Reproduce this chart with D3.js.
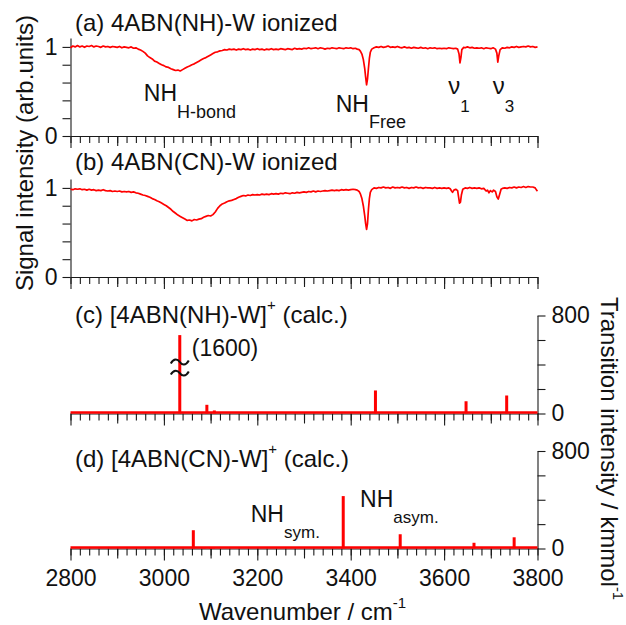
<!DOCTYPE html>
<html><head><meta charset="utf-8">
<script src="https://cdn.jsdelivr.net/npm/d3@7"></script>
<style>
html,body{margin:0;padding:0;background:#fff;}
svg{display:block;font-family:"Liberation Sans",Arial,sans-serif;}
</style></head>
<body><svg id="c" width="626" height="625"></svg>
<script>
// ---------------- DATA ----------------
const panelTitles = ["(a) 4ABN(NH)-W ionized", "(b) 4ABN(CN)-W ionized", "(c) [4ABN(NH)-W]", "(d) [4ABN(CN)-W]"];
const xTickLabels = [2800, 3000, 3200, 3400, 3600, 3800];
const yTickLabelsExp = [0, 1];
const yTickLabelsCalc = [0, 800];

// (a) ionized 4ABN(NH)-W : [wavenumber, signal]
const spectrumA = [
[2800,0.99],[2805,1.01],[2810,1.0],[2815,1.015],[2820,1.0],[2825,1.01],[2830,0.995],[2835,1.01],[2840,1.005],[2845,1.015],
[2850,1.0],[2855,1.01],[2860,1.005],[2865,0.995],[2870,1.01],[2875,1.0],[2880,1.005],[2885,0.995],[2890,1.005],[2895,1.0],
[2900,0.995],[2905,1.005],[2910,0.99],[2915,1.0],[2920,0.995],[2925,0.99],[2930,1.0],[2935,0.985],[2940,0.99],[2945,0.975],
[2950,0.965],[2955,0.95],[2960,0.93],[2965,0.9],[2970,0.88],[2975,0.865],[2980,0.84],[2985,0.83],[2990,0.815],[2995,0.8],
[3000,0.79],[3005,0.775],[3010,0.77],[3015,0.755],[3020,0.745],[3025,0.735],[3030,0.74],[3035,0.73],[3040,0.745],[3045,0.76],
[3050,0.775],[3055,0.785],[3060,0.8],[3065,0.81],[3070,0.825],[3075,0.84],[3080,0.855],[3085,0.87],[3090,0.88],[3095,0.895],
[3100,0.91],[3105,0.925],[3110,0.94],[3115,0.945],[3120,0.955],[3125,0.96],[3130,0.97],[3135,0.965],[3140,0.975],[3145,0.97],
[3150,0.975],[3155,0.965],[3160,0.975],[3165,0.97],[3170,0.98],[3175,0.97],[3180,0.975],[3185,0.965],[3190,0.975],[3195,0.97],
[3200,0.98],[3205,0.97],[3210,0.975],[3215,0.965],[3220,0.975],[3225,0.97],[3230,0.98],[3235,0.97],[3240,0.975],[3245,0.97],
[3250,0.98],[3255,0.975],[3260,0.97],[3265,0.98],[3270,0.975],[3275,0.97],[3280,0.985],[3285,0.975],[3290,0.98],[3295,0.975],
[3300,0.985],[3305,0.98],[3310,0.99],[3315,0.98],[3320,0.985],[3325,0.99],[3330,0.98],[3335,0.99],[3340,0.985],[3345,0.975],
[3350,0.985],[3355,0.98],[3360,0.99],[3365,0.985],[3370,0.98],[3375,0.99],[3380,0.985],[3385,0.98],[3390,0.99],[3395,0.985],
[3400,0.99],[3405,0.98],[3410,0.985],[3414,0.975],[3418,0.97],[3421,0.95],[3424,0.92],[3427,0.86],[3430,0.76],[3432,0.66],
[3434,0.575],[3436,0.64],[3438,0.76],[3440,0.87],[3442,0.94],[3445,0.975],[3450,0.99],[3455,1.0],[3460,0.995],[3465,1.005],
[3470,0.995],[3475,1.0],[3480,1.01],[3485,0.995],[3490,1.0],[3495,0.995],[3500,1.005],[3505,0.995],[3510,0.99],[3515,1.0],
[3520,0.99],[3525,0.995],[3530,0.985],[3535,0.995],[3540,0.99],[3545,0.985],[3550,0.995],[3555,0.985],[3560,0.99],[3565,0.98],
[3570,0.99],[3575,0.985],[3580,0.99],[3585,0.98],[3590,0.985],[3595,0.98],[3600,0.985],[3605,0.98],[3610,0.99],[3615,0.985],
[3620,0.98],[3625,0.985],[3629,0.975],[3632,0.92],[3634,0.82],[3636,0.88],[3638,0.97],[3642,0.995],[3645,0.99],[3650,1.0],
[3655,0.99],[3660,0.995],[3665,0.985],[3670,0.99],[3675,0.985],[3680,0.99],[3685,0.98],[3690,0.99],[3695,0.985],[3700,0.98],
[3705,0.99],[3710,0.975],[3713,0.93],[3715,0.83],[3717,0.9],[3720,0.97],[3725,0.99],[3730,0.985],[3735,0.995],[3740,0.99],
[3745,1.0],[3750,0.995],[3755,1.005],[3760,0.995],[3765,1.0],[3770,1.005],[3775,1.0],[3780,1.01],[3785,1.0],[3790,1.005],
[3795,0.995],[3800,1.0]
];

// (b) ionized 4ABN(CN)-W : [wavenumber, signal]
const spectrumB = [
[2800,0.985],[2805,0.98],[2810,0.99],[2815,0.985],[2820,0.99],[2825,0.98],[2830,0.985],[2835,0.975],[2840,0.985],[2845,0.975],
[2850,0.98],[2855,0.97],[2860,0.975],[2865,0.97],[2870,0.98],[2875,0.97],[2880,0.965],[2885,0.97],[2890,0.96],[2895,0.965],
[2900,0.96],[2905,0.965],[2910,0.955],[2915,0.96],[2920,0.955],[2925,0.96],[2930,0.95],[2935,0.955],[2940,0.945],[2945,0.94],
[2950,0.93],[2955,0.92],[2960,0.915],[2965,0.905],[2970,0.895],[2975,0.88],[2980,0.87],[2985,0.855],[2990,0.845],[2995,0.83],
[3000,0.815],[3005,0.8],[3010,0.78],[3015,0.76],[3020,0.735],[3025,0.715],[3030,0.695],[3035,0.68],[3040,0.665],[3045,0.65],
[3050,0.635],[3055,0.64],[3060,0.63],[3065,0.645],[3070,0.64],[3075,0.65],[3080,0.655],[3085,0.67],[3090,0.68],[3095,0.69],
[3100,0.685],[3105,0.7],[3110,0.73],[3115,0.77],[3120,0.8],[3125,0.82],[3130,0.83],[3135,0.845],[3140,0.855],[3145,0.86],
[3150,0.87],[3155,0.88],[3160,0.895],[3165,0.905],[3170,0.915],[3175,0.91],[3180,0.92],[3185,0.915],[3190,0.925],[3195,0.92],
[3200,0.925],[3205,0.92],[3210,0.93],[3215,0.925],[3220,0.93],[3225,0.925],[3230,0.935],[3235,0.93],[3240,0.935],[3245,0.93],
[3250,0.94],[3255,0.935],[3260,0.945],[3265,0.94],[3270,0.935],[3275,0.945],[3280,0.94],[3285,0.95],[3290,0.945],[3295,0.95],
[3300,0.955],[3305,0.95],[3310,0.96],[3315,0.955],[3320,0.965],[3325,0.955],[3330,0.965],[3335,0.96],[3340,0.965],[3345,0.97],
[3350,0.965],[3355,0.97],[3360,0.975],[3365,0.97],[3370,0.975],[3375,0.97],[3380,0.98],[3385,0.975],[3390,0.98],[3395,0.975],
[3400,0.98],[3405,0.985],[3410,0.98],[3414,0.975],[3418,0.96],[3421,0.93],[3424,0.88],[3427,0.8],[3430,0.69],[3432,0.6],
[3434,0.535],[3436,0.6],[3438,0.76],[3440,0.88],[3442,0.95],[3445,0.98],[3450,1.0],[3455,0.995],[3460,1.005],[3465,1.0],
[3470,1.01],[3475,1.0],[3480,1.005],[3485,0.995],[3490,1.01],[3495,1.0],[3500,1.005],[3505,1.0],[3510,1.01],[3515,1.0],
[3520,1.005],[3525,0.995],[3530,1.005],[3535,1.0],[3540,1.01],[3545,1.0],[3550,1.005],[3555,0.995],[3560,1.005],[3565,1.0],
[3570,1.0],[3575,0.995],[3580,1.005],[3585,0.995],[3590,1.0],[3595,0.995],[3600,1.0],[3605,0.995],[3610,1.0],[3613,0.99],
[3616,0.965],[3618,0.95],[3621,0.975],[3625,0.985],[3629,0.97],[3631,0.9],[3633,0.83],[3635,0.84],[3637,0.92],[3640,0.985],
[3645,1.0],[3650,0.995],[3655,1.005],[3660,0.995],[3665,1.0],[3670,0.995],[3675,1.0],[3680,0.99],[3685,0.995],[3690,0.965],
[3693,0.975],[3696,0.945],[3699,0.97],[3703,0.955],[3706,0.975],[3710,0.96],[3713,0.9],[3716,0.875],[3719,0.93],[3722,0.985],
[3725,0.995],[3730,1.0],[3735,0.995],[3740,1.005],[3745,1.0],[3750,1.01],[3755,1.0],[3760,1.01],[3765,1.005],[3770,1.015],
[3775,1.005],[3780,1.015],[3785,1.01],[3790,1.01],[3795,1.0],[3798,0.975],[3800,0.965]
];

// (c) calc. [4ABN(NH)-W]+ : wavenumber / intensity (km mol-1)
const calcC_wn  = [3034, 3092, 3108, 3453, 3647, 3734];
const calcC_int = [1600, 71, 25, 188, 100, 147];
// (d) calc. [4ABN(CN)-W]+
const calcD_wn  = [3063, 3086, 3100, 3106, 3384, 3506, 3664, 3750];
const calcD_int = [150, 8, 6, 6, 430, 117, 47, 92];
const displayCap = 640;   // intensities above this are drawn broken

// ---------------- CHART ----------------
const svg = d3.select("#c");
const FONT = "Liberation Sans, Arial, sans-serif";
const RED = "#ff0000", AX = "#1a1a1a";
const x = d3.scaleLinear().domain([2800, 3800]).range([70.5, 537.5]);

const panels = [
  {y0: 136, y1: 38, dom: [0, 1.1]},
  {y0: 277, y1: 179, dom: [0, 1.1]},
  {y0: 413.5, y1: 315.5, dom: [0, 800]},
  {y0: 548.5, y1: 451, dom: [0, 800]}
];
panels.forEach(p => p.y = d3.scaleLinear().domain(p.dom).range([p.y0, p.y1]));

function styleAxis(g) {
  g.selectAll("path.domain").attr("stroke", AX).attr("stroke-width", 1.1);
  g.selectAll(".tick line").attr("stroke", AX).attr("stroke-width", 1.1);
  g.selectAll("text").attr("font-family", FONT).attr("font-size", 23).attr("fill", "#111");
}

function bottomAxis(p, withLabels) {
  const g = svg.append("g").attr("transform", `translate(0,${p.y0})`);
  g.append("g").call(d3.axisBottom(x).tickValues(d3.range(2800, 3801, 20)).tickSize(7).tickSizeOuter(0).tickFormat(""))
    .call(styleAxis);
  g.append("g").call(d3.axisBottom(x).tickValues(d3.range(2900, 3800, 200)).tickSize(10).tickSizeOuter(0).tickFormat(""))
    .call(s => s.select("path.domain").remove()).call(styleAxis);
  g.append("g").call(d3.axisBottom(x).tickValues(xTickLabels).tickSize(12).tickSizeOuter(0).tickPadding(9)
      .tickFormat(withLabels ? d3.format("d") : ""))
    .call(s => s.select("path.domain").remove()).call(styleAxis);
}

// experimental panels
[spectrumA, spectrumB].forEach((spec, i) => {
  const p = panels[i];
  svg.append("g").attr("transform", "translate(70.5,0)")
    .call(d3.axisLeft(p.y).tickValues(d3.range(0, 1.01, 0.2)).tickSize(8).tickSizeOuter(0).tickPadding(5)
      .tickFormat(d => yTickLabelsExp.includes(Math.round(d * 10) / 10) ? d3.format("d")(d) : ""))
    .call(styleAxis);
  bottomAxis(p, false);
  svg.append("path").datum(spec)
    .attr("fill", "none").attr("stroke", RED).attr("stroke-width", 1.7).attr("stroke-linejoin", "round")
    .attr("d", d3.line().x(d => x(d[0])).y(d => p.y(d[1])));
});

// calculated panels
[[calcC_wn, calcC_int], [calcD_wn, calcD_int]].forEach(([wn, it], j) => {
  const p = panels[2 + j];
  svg.append("g").attr("transform", "translate(537.5,0)")
    .call(d3.axisRight(p.y).tickValues(d3.range(0, 801, 200)).tickSize(8).tickSizeOuter(0).tickPadding(6)
      .tickFormat(d => yTickLabelsCalc.includes(d) ? d : ""))
    .call(styleAxis);
  bottomAxis(p, j === 1);
  svg.append("line").attr("x1", x(2800)).attr("x2", x(3800)).attr("y1", p.y(0) - 1).attr("y2", p.y(0) - 1)
    .attr("stroke", RED).attr("stroke-width", 2.4);
  const data = wn.map((w, k) => ({w, v: it[k]}));
  svg.append("g").selectAll("rect").data(data).join("rect")
    .attr("x", d => x(d.w) - 1.5).attr("width", 3)
    .attr("y", d => p.y(Math.min(d.v, displayCap)))
    .attr("height", d => p.y(0) - p.y(Math.min(d.v, displayCap)))
    .attr("fill", RED);
  data.filter(d => d.v > displayCap).forEach(d => {
    [420, 330].forEach(lv => {
      svg.append("path")
        .attr("transform", `translate(${x(d.w)},${p.y(lv)})`)
        .attr("d", "M-9,1.5 C-6,-4 -2,-3 0,0 S6,4 9,-1.5")
        .attr("fill", "none").attr("stroke", "#111").attr("stroke-width", 2);
    });
    svg.append("text").attr("x", x(d.w) + 12).attr("y", p.y(470))
      .attr("font-family", FONT).attr("font-size", 23).attr("fill", "#111").text(`(${d.v})`);
  });
});

// panel titles
const titleY = [31, 170, 323, 466.5];
panelTitles.forEach((t, i) => {
  const tx = svg.append("text").attr("x", 75).attr("y", titleY[i])
    .attr("font-family", FONT).attr("font-size", 24).attr("fill", "#111");
  tx.append("tspan").text(t);
  if (i >= 2) {
    tx.append("tspan").attr("dy", -13).attr("font-size", 15).text("+");
    tx.append("tspan").attr("dy", 13).text(" (calc.)");
  }
});

// peak annotations
function label(px, py, main, sub, dy, mainSize, subSize) {
  const t = svg.append("text").attr("x", px).attr("y", py)
    .attr("font-family", FONT).attr("fill", "#111").attr("font-size", mainSize);
  t.append("tspan").text(main);
  t.append("tspan").attr("dy", dy).attr("font-size", subSize).text(sub);
}
const pa = panels[0], pd = panels[3];
label(x(2957), pa.y(0.39), "NH", "H-bond", 17, 23, 18);
label(x(3368), pa.y(0.273), "NH", "Free", 16.5, 23, 18);
label(x(3609), pa.y(0.47), "ν", "1", 17.5, 24, 17);
label(x(3704), pa.y(0.47), "ν", "3", 17.5, 24, 17);
label(x(3186), pd.y(215), "NH", "sym.", 16, 23, 17);
label(x(3420), pd.y(338), "NH", "asym.", 16, 23, 17);

// axis titles
const xl = svg.append("text").attr("x", 199).attr("y", 620)
  .attr("font-family", FONT).attr("font-size", 24).attr("fill", "#111");
xl.append("tspan").text("Wavenumber / cm");
xl.append("tspan").attr("dy", -12).attr("font-size", 15).text("-1");

svg.append("text").attr("transform", "translate(33,153) rotate(-90)").attr("text-anchor", "middle")
  .attr("font-family", FONT).attr("font-size", 24).attr("fill", "#111").text("Signal intensity (arb.units)");

const rl = svg.append("text").attr("transform", "translate(601,297) rotate(90)")
  .attr("font-family", FONT).attr("font-size", 24).attr("fill", "#111");
rl.append("tspan").text("Transition intensity / kmmol");
rl.append("tspan").attr("dy", -12).attr("font-size", 15).text("-1");
</script>
</body></html>
